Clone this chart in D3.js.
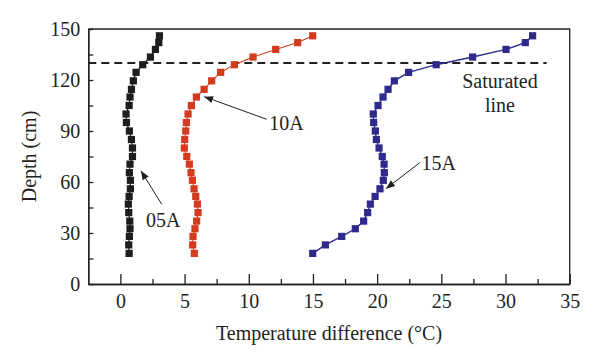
<!DOCTYPE html>
<html>
<head>
<meta charset="UTF-8">
<title>Depth vs temperature difference</title>
<script src="https://cdn.jsdelivr.net/npm/d3@7"></script>
<style>
  body { margin: 0; background: #fff; }
  text { font-family: "Liberation Serif", "DejaVu Serif", serif; fill: #231f20; }
</style>
</head>
<body>
<svg id="chart" width="600" height="363"></svg>
<script>
// ---------------------------------------------------
// data (depth in cm, temperature difference in °C)
// ---------------------------------------------------
var depths = [18, 23, 28, 32.5, 37, 42, 47, 51.5, 56, 61, 65.5, 70.5, 75, 80, 85, 90, 95, 100, 105, 110, 114.5, 119.5, 124.5, 129, 133.5, 138, 142, 146];
var temp05A = [0.68, 0.65, 0.70, 0.75, 0.73, 0.65, 0.62, 0.68, 0.78, 0.78, 0.70, 0.75, 0.94, 0.94, 0.86, 0.70, 0.47, 0.44, 0.68, 0.75, 0.86, 1.01, 1.22, 1.74, 2.34, 2.73, 2.99, 3.04];
var temp10A = [5.76, 5.63, 5.66, 5.81, 5.94, 6.05, 6.00, 5.87, 5.74, 5.61, 5.50, 5.37, 5.17, 4.98, 5.01, 5.09, 5.14, 5.27, 5.53, 5.92, 6.52, 7.11, 7.81, 8.88, 10.33, 12.1, 13.81, 14.98];
var temp15A = [14.98, 15.97, 17.24, 18.30, 18.95, 19.26, 19.47, 19.84, 20.22, 20.48, 20.56, 20.54, 20.40, 20.15, 19.94, 19.86, 19.73, 19.70, 20.07, 20.46, 20.85, 21.34, 22.45, 24.6, 27.44, 30.04, 31.54, 32.11];

var xTicks = [0, 5, 10, 15, 20, 25, 30, 35];
var xMinorTicks = [2.5, 7.5, 12.5, 17.5, 22.5, 27.5, 32.5];
var yTicks = [0, 30, 60, 90, 120, 150];
var yMinorTicks = [15, 45, 75, 105, 135];

var saturatedDepth = 130;

var series = [
  { name: "05A", values: temp05A, color: "#1e1c1d", width: 1.2, label: [2.0, 33.5], arrow: [[3.22, 46.9], [1.60, 66.6]] },
  { name: "10A", values: temp10A, color: "#d33b1e", width: 1.1, label: [11.6, 90.6], arrow: [[11.39, 96.9], [6.53, 110.2]] },
  { name: "15A", values: temp15A, color: "#2d2a8c", width: 1.4, label: [23.45, 66.8], arrow: [[23.33, 71.4], [20.69, 56.1]] }
];

// ---------------------------------------------------
// scales
// ---------------------------------------------------
var svg = d3.select("#chart");
var x = d3.scaleLinear().domain([-2.5, 35]).range([88.3, 569.7]);
var y = d3.scaleLinear().domain([0, 150]).range([284, 29]);
var ink = "#231f20";
var fontSize = "20px";

svg.append("defs").append("marker")
  .attr("id", "arrowHead")
  .attr("viewBox", "0 0 10 10")
  .attr("refX", 10).attr("refY", 5)
  .attr("markerWidth", 9).attr("markerHeight", 9)
  .attr("markerUnits", "userSpaceOnUse")
  .attr("orient", "auto")
  .append("path")
  .attr("d", "M0,1 L10,5 L0,9 Z")
  .attr("fill", ink);

// ---------------------------------------------------
// axes
// ---------------------------------------------------
var xAxis = svg.append("g")
  .attr("transform", "translate(0," + y(0) + ")")
  .call(d3.axisBottom(x).tickValues(xTicks).tickSizeInner(-10).tickSizeOuter(0).tickPadding(10).tickFormat(d3.format("d")));
var xMinor = svg.append("g")
  .attr("transform", "translate(0," + y(0) + ")")
  .call(d3.axisBottom(x).tickValues(xMinorTicks).tickSizeInner(-5).tickSizeOuter(0).tickFormat(""));
var yAxis = svg.append("g")
  .attr("transform", "translate(" + x(-2.5) + ",0)")
  .call(d3.axisLeft(y).tickValues(yTicks).tickSizeInner(-5).tickSizeOuter(0).tickPadding(8).tickFormat(d3.format("d")));
var yMinor = svg.append("g")
  .attr("transform", "translate(" + x(-2.5) + ",0)")
  .call(d3.axisLeft(y).tickValues(yMinorTicks).tickSizeInner(-5).tickSizeOuter(0).tickFormat(""));

[xAxis, xMinor, yAxis, yMinor].forEach(function (g) {
  g.selectAll("path, line").attr("stroke", ink).attr("stroke-width", 1.3);
  g.selectAll("text").style("font-family", "'Liberation Serif', serif").style("font-size", fontSize).attr("fill", ink);
});

// top and right frame
svg.append("path")
  .attr("d", "M" + x(-2.5) + "," + y(150) + "H" + x(35) + "V" + y(0))
  .attr("fill", "none").attr("stroke", ink).attr("stroke-width", 1.3);

svg.append("text")
  .attr("x", (x(-2.5) + x(35)) / 2).attr("y", 340)
  .attr("text-anchor", "middle").style("font-size", fontSize)
  .text("Temperature difference (°C)");

svg.append("text")
  .attr("transform", "translate(36," + (y(0) + y(150)) / 2 + ") rotate(-90)")
  .attr("text-anchor", "middle").style("font-size", fontSize)
  .text("Depth (cm)");

// ---------------------------------------------------
// saturated line
// ---------------------------------------------------
svg.append("line")
  .attr("x1", x(-2.5)).attr("x2", x(33.2))
  .attr("y1", y(saturatedDepth)).attr("y2", y(saturatedDepth))
  .attr("stroke", ink).attr("stroke-width", 2).attr("stroke-dasharray", "8,5");

svg.append("text").attr("x", x(29.57)).attr("y", y(115.5))
  .attr("text-anchor", "middle").style("font-size", fontSize).text("Saturated");
svg.append("text").attr("x", x(29.57)).attr("y", y(101.4))
  .attr("text-anchor", "middle").style("font-size", fontSize).text("line");

// ---------------------------------------------------
// series
// ---------------------------------------------------
var line = d3.line()
  .x(function (d) { return x(d[0]); })
  .y(function (d) { return y(d[1]); });

series.forEach(function (s) {
  var pts = s.values.map(function (v, i) { return [v, depths[i]]; });
  svg.append("path")
    .datum(pts)
    .attr("d", line)
    .attr("fill", "none")
    .attr("stroke", s.color)
    .attr("stroke-width", s.width);
  svg.append("g").selectAll("rect")
    .data(pts).enter()
    .append("rect")
    .attr("x", function (d) { return x(d[0]) - 3.6; })
    .attr("y", function (d) { return y(d[1]) - 3.6; })
    .attr("width", 7.2).attr("height", 7.2)
    .attr("fill", s.color);

  svg.append("line")
    .attr("x1", x(s.arrow[0][0])).attr("y1", y(s.arrow[0][1]))
    .attr("x2", x(s.arrow[1][0])).attr("y2", y(s.arrow[1][1]))
    .attr("stroke", ink).attr("stroke-width", 1)
    .attr("marker-end", "url(#arrowHead)");
  svg.append("text")
    .attr("x", x(s.label[0])).attr("y", y(s.label[1]))
    .style("font-size", fontSize)
    .text(s.name);
});
</script>
</body>
</html>
